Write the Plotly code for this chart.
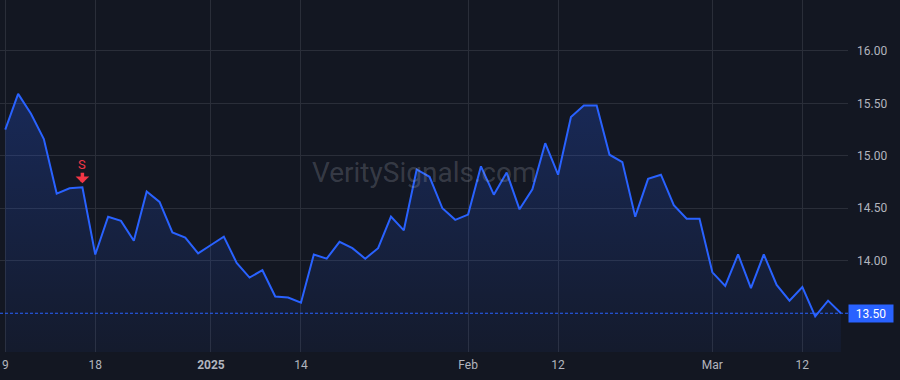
import plotly.graph_objects as go

dates = [
    "2024-12-09", "2024-12-10", "2024-12-11", "2024-12-12", "2024-12-13",
    "2024-12-16", "2024-12-17", "2024-12-18", "2024-12-19", "2024-12-20",
    "2024-12-23", "2024-12-24", "2024-12-26", "2024-12-27", "2024-12-30",
    "2024-12-31",
    "2025-01-02", "2025-01-03", "2025-01-06", "2025-01-07", "2025-01-08",
    "2025-01-10", "2025-01-13", "2025-01-14", "2025-01-15", "2025-01-16",
    "2025-01-17", "2025-01-21", "2025-01-22", "2025-01-23", "2025-01-24",
    "2025-01-27", "2025-01-28", "2025-01-29", "2025-01-30", "2025-01-31",
    "2025-02-03", "2025-02-04", "2025-02-05", "2025-02-06", "2025-02-07",
    "2025-02-10", "2025-02-11", "2025-02-12", "2025-02-13", "2025-02-14",
    "2025-02-18", "2025-02-19", "2025-02-20", "2025-02-21", "2025-02-24",
    "2025-02-25", "2025-02-26", "2025-02-27", "2025-02-28",
    "2025-03-03", "2025-03-04", "2025-03-05", "2025-03-06", "2025-03-07",
    "2025-03-10", "2025-03-11", "2025-03-12", "2025-03-13", "2025-03-14",
    "2025-03-17",
]

prices = [
    15.25, 15.59, 15.40, 15.16, 14.64, 14.69, 14.70, 14.06, 14.42, 14.38,
    14.19, 14.66, 14.56, 14.27, 14.22, 14.07,
    14.15, 14.23, 13.98, 13.84, 13.91, 13.66, 13.65, 13.60, 14.06, 14.02,
    14.18, 14.12, 14.02, 14.12, 14.42, 14.29, 14.87, 14.80, 14.50, 14.39,
    14.44, 14.90, 14.63, 14.84, 14.49, 14.68, 15.12, 14.82, 15.37, 15.48,
    15.48, 15.01, 14.94, 14.42, 14.78, 14.82, 14.53, 14.40, 14.40,
    13.89, 13.76, 14.06, 13.74, 14.06, 13.77, 13.62, 13.75, 13.47, 13.62,
    13.50,
]

x_tick_dates = ["2024-12-09", "2024-12-18", "2025-01-02", "2025-01-14",
                "2025-02-03", "2025-02-12", "2025-03-03", "2025-03-12"]
x_tick_labels = ["9", "18", "<b>2025</b>", "14", "Feb", "12", "Mar", "12"]

y_tick_values = [14.0, 14.5, 15.0, 15.5, 16.0]
y_tick_labels = ["14.00", "14.50", "15.00", "15.50", "16.00"]

signal_date = "2024-12-17"
signal_label = "S"
watermark = "VeritySignals.com"

BG = "#131722"
GRID = "#2a2e39"
BLUE = "#2962ff"
RED = "#f23645"
TEXT = "#b2b5be"
FONT = "Roboto"

y_range = [13.131, 16.484]
x_range = [-0.41, len(dates) - 1 + 0.55]

fig = go.Figure()
fig.add_trace(go.Scatter(
    x=dates, y=prices, mode="lines",
    line=dict(color=BLUE, width=2),
    fill="tozeroy",
    fillgradient=dict(
        type="vertical",
        start=y_range[0], stop=max(prices),
        colorscale=[[0, "rgba(41,98,255,0.05)"], [1, "rgba(41,98,255,0.24)"]],
    ),
    hoverinfo="skip",
    showlegend=False,
))

last = prices[-1]
fig.add_shape(type="line", xref="paper", x0=0, x1=1, yref="y", y0=last, y1=last,
              line=dict(color=BLUE, width=1, dash="3px,2px"), layer="above")

sig_i = dates.index(signal_date)
fig.add_annotation(x=signal_date, y=prices[sig_i], text=signal_label,
                   showarrow=False, yshift=23,
                   font=dict(family=FONT, size=13, color=RED))
fig.add_annotation(x=signal_date, y=prices[sig_i], text="",
                   showarrow=True, ax=0, ay=-16, standoff=4,
                   arrowhead=1, arrowsize=0.65, arrowwidth=3.5, arrowcolor=RED)

fig.add_annotation(xref="paper", yref="paper", x=0.5, y=0.51,
                   text=watermark, showarrow=False,
                   font=dict(family=FONT, size=28, color="rgba(178,181,190,0.24)"))

fig.add_annotation(xref="paper", x=1, xanchor="left", y=last, yref="y",
                   text=f"{last:.2f}", showarrow=False,
                   bgcolor=BLUE, width=40, height=13, borderpad=2, align="center",
                   font=dict(family=FONT, size=12, color="#ffffff"))

fig.update_layout(
    width=900, height=380,
    margin=dict(l=0, r=52, t=0, b=28),
    paper_bgcolor=BG, plot_bgcolor=BG,
    font=dict(family=FONT, size=12, color=TEXT),
    xaxis=dict(
        type="category", range=x_range,
        tickmode="array", tickvals=x_tick_dates, ticktext=x_tick_labels,
        showgrid=True, gridcolor=GRID, gridwidth=1,
        zeroline=False, showline=False, ticks="",
        tickfont=dict(family=FONT, size=12, color=TEXT),
        ticklabelstandoff=4,
    ),
    yaxis=dict(
        side="right", range=y_range,
        tickmode="array", tickvals=y_tick_values, ticktext=y_tick_labels,
        showgrid=True, gridcolor=GRID, gridwidth=1,
        zeroline=False, showline=False, ticks="",
        tickfont=dict(family=FONT, size=12, color=TEXT),
        ticklabelstandoff=8,
    ),
)

fig.write_html("out.html")
